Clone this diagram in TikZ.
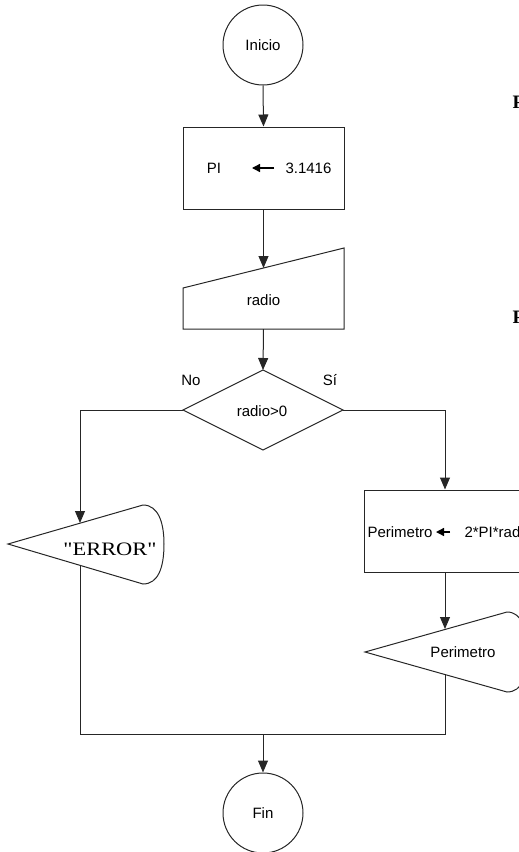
\documentclass[tikz,border=0pt]{standalone}
\usepackage{fontspec}
\setmainfont{Liberation Sans}
\newfontfamily\serifface{Liberation Serif}
\usetikzlibrary{arrows.meta}
\begin{document}
\begin{tikzpicture}[x=1pt,y=-1pt,line width=1pt,
  ln/.style={draw=black!85},
  arr/.style={ln,-{Triangle[length=12pt,width=10pt]}},
  glyph/.style={draw=black,line width=1.3pt,-{Triangle[length=8pt,width=8pt]}},
  txt/.style={font=\fontsize{15}{17}\selectfont,inner sep=0pt,text=black},
  term/.style={circle,draw=black!85,minimum size=80pt,inner sep=0pt,font=\fontsize{15}{17}\selectfont}]
\useasboundingbox (0,0) rectangle (519,852);
\clip (0,0) rectangle (519,852);

% start
\node[term] (ini) at (263,45) {Inicio};

% assignment PI
\node[draw=black!85,minimum width=161pt,minimum height=82pt,inner sep=0pt] (pibox) at (263.5,168) {};
\node[txt] (pit) at (214,168) {PI};
\node[txt,anchor=west] (pival) at (285,168) {3.1416};
\coordinate (pa1) at (274,168);
\coordinate (pa2) at (252,168);
\draw[glyph] (pa1) -- (pa2);

% manual input
\coordinate (inTL) at (183,288);
\coordinate (inTR) at (344,248);
\coordinate (inBR) at (344,329);
\coordinate (inBL) at (183,329);
\draw[ln] (inTL) -- (inTR) -- (inBR) -- (inBL) -- cycle;
\node[txt] (radio) at (263.5,300) {radio};
\coordinate (inTop) at (263.5,268);
\coordinate (inBot) at (263.5,329);

% decision
\coordinate (dT) at (263,370);
\coordinate (dR) at (343,410);
\coordinate (dB) at (263,450);
\coordinate (dL) at (183,410);
\draw[ln] (dT) -- (dR) -- (dB) -- (dL) -- cycle;
\node[txt] (cond) at (262,411) {radio>0};
\node[txt] (no) at (191,380) {No};
\node[txt] (si) at (330,380) {Sí};

% ERROR display
\coordinate (eTip) at (8,544);
\coordinate (eTR) at (143,505);
\coordinate (eBR) at (143,584);
\draw[ln] (eTip) -- (eTR) .. controls (158,505) and (164,522) .. (164,544)
  .. controls (164,568) and (158,584) .. (eBR) -- cycle;
\node[inner sep=0pt,font=\serifface\fontsize{19}{20}\selectfont] (err) at (110,549) {\scalebox{1.18}[1]{"ERROR"}};
\coordinate (eTop) at (80,523);
\coordinate (eBot) at (80,565);

% Perimetro assignment
\node[draw=black!85,minimum width=162pt,minimum height=82pt,inner sep=0pt] (pbox) at (445,531) {};
\node[txt,anchor=west] (pname) at (367,532) {Perimetro};
\coordinate (qa1) at (450,532);
\coordinate (qa2) at (436,532);
\draw[glyph] (qa1) -- (qa2);
\node[txt,anchor=west] (pexpr) at (464,532) {2*PI*rad};

% Perimetro display
\coordinate (sTip) at (365,652);
\coordinate (sTR) at (507,612);
\coordinate (sBR) at (507,692);
\draw[ln] (sTip) -- (sTR) .. controls (522,612) and (528,630) .. (528,652)
  .. controls (528,676) and (522,692) .. (sBR) -- cycle;
\node[txt] (pout) at (463,652) {Perimetro};
\coordinate (sTop) at (445,629);
\coordinate (sBot) at (445,675);

% end
\node[term] (fin) at (263,813) {Fin};

% merge points
\coordinate (cL) at (80,410);
\coordinate (cR) at (445,410);
\coordinate (mL) at (80,734);
\coordinate (mR) at (445,734);
\coordinate (mC) at (263,734);

% connectors
\draw[arr] (ini.south) -- (pibox.north);
\draw[arr] (pibox.south) -- (inTop);
\draw[arr] (inBot) -- (dT);
\draw[arr] (dL) -- (cL) -- (eTop);
\draw[arr] (dR) -- (cR) -- (pbox.north);
\draw[arr] (pbox.south) -- (sTop);
\draw[ln] (eBot) -- (mL) -- (mR) -- (sBot);
\draw[arr] (mC) -- (fin.north);

% partially visible letters at right edge (cut by the picture's edge, as in the reference)
\node[anchor=west,inner sep=0pt,font=\serifface\bfseries\fontsize{19}{20}\selectfont] (p1) at (512,102) {P};
\node[anchor=west,inner sep=0pt,font=\serifface\bfseries\fontsize{19}{20}\selectfont] (p2) at (512,317) {P};
\end{tikzpicture}
\end{document}
